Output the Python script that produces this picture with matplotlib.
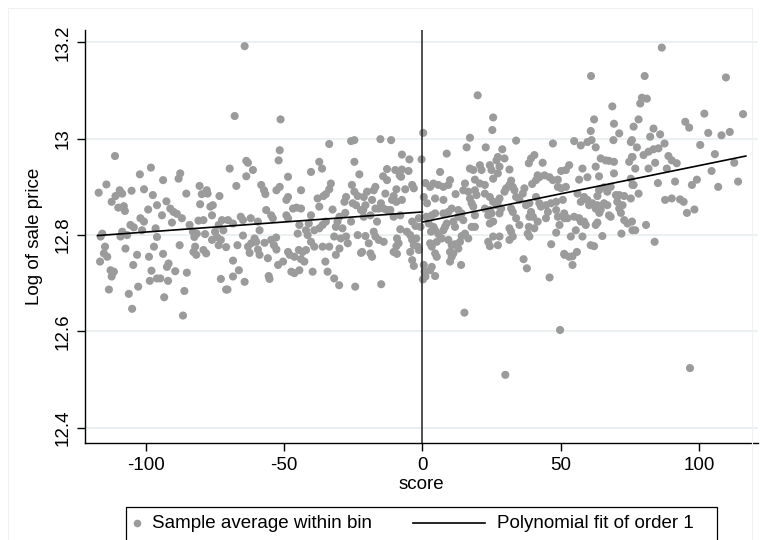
import numpy as np
import matplotlib
matplotlib.use('Agg')
import matplotlib.pyplot as plt
from matplotlib.lines import Line2D
from matplotlib.patches import Rectangle

plt.rcParams['font.family'] = ['Liberation Sans', 'DejaVu Sans']
plt.rcParams['axes.unicode_minus'] = False

# bin averages (score, log sale price), strip by strip
bins_a = [(-111.2, 12.964), (-98.2, 12.940), (-102.2, 12.926), (-114.3, 12.905), (-117.1, 12.888),
          (-109.5, 12.893), (-111, 12.881), (-112.4, 12.869), (-108.6, 12.886), (-105.2, 12.892),
          (-100.7, 12.895), (-97.5, 12.883), (-96, 12.862), (-99.2, 12.853), (-110, 12.857),
          (-108, 12.86), (-107.6, 12.85), (-102, 12.835), (-100.7, 12.828), (-105.6, 12.821),
          (-104.4, 12.816), (-108.6, 12.807), (-106.8, 12.8), (-109.2, 12.797), (-101.4, 12.81),
          (-96.5, 12.814), (-96, 12.796), (-115.8, 12.803), (-116.4, 12.797), (-114.8, 12.776),
          (-107.4, 12.772), (-103.2, 12.759), (-97.1, 12.776), (-115.2, 12.762), (-114, 12.755),
          (-116.6, 12.745), (-98.9, 12.755), (-104.6, 12.738), (-112.8, 12.727), (-111.6, 12.724),
          (-112.4, 12.714), (-98, 12.726), (-98.6, 12.705), (-96, 12.71), (-102.8, 12.693),
          (-113.4, 12.687), (-106.2, 12.678), (-105, 12.647)]

bins_b = [(-87.6, 12.928), (-88.2, 12.917), (-93.8, 12.914), (-85.4, 12.886), (-80.6, 12.902),
          (-78, 12.893), (-79.8, 12.885), (-77.7, 12.886), (-73.4, 12.881), (-80.4, 12.864),
          (-76.7, 12.859), (-75.8, 12.862), (-92.6, 12.87), (-91.2, 12.855), (-90, 12.848),
          (-88.8, 12.844), (-87, 12.835), (-90.6, 12.826), (-94.2, 12.841), (-76.1, 12.841),
          (-81, 12.83), (-79.2, 12.831), (-84.2, 12.821), (-73.7, 12.821), (-72.5, 12.831),
          (-83, 12.807), (-81.6, 12.803), (-82.5, 12.796), (-78.6, 12.802), (-75, 12.807),
          (-74.3, 12.796), (-72, 12.81), (-76.1, 12.79), (-87.8, 12.779), (-82.2, 12.776),
          (-82.8, 12.765), (-81.8, 12.759), (-79.2, 12.769), (-78.2, 12.762), (-73.7, 12.779),
          (-72.9, 12.79), (-93.8, 12.761), (-91.8, 12.741), (-92.4, 12.734), (-89.4, 12.725),
          (-85.2, 12.722), (-94.8, 12.71), (-92, 12.705), (-72.9, 12.709), (-71, 12.687),
          (-86.1, 12.684), (-93.4, 12.671), (-86.6, 12.633)]

bins_c = [(-67.9, 13.047), (-51.3, 13.04), (-64.3, 13.192), (-51.6, 12.976), (-52, 12.955),
          (-69.7, 12.938), (-63.7, 12.954), (-63.1, 12.95), (-61.3, 12.935), (-63.7, 12.922),
          (-67.3, 12.902), (-48.6, 12.921), (-58.3, 12.904), (-57.3, 12.893), (-56.8, 12.885),
          (-52.8, 12.893), (-51.6, 12.9), (-49.2, 12.873), (-48.6, 12.879), (-56.5, 12.852),
          (-54.7, 12.841), (-54.1, 12.835), (-46.8, 12.855), (-49.2, 12.841), (-48.6, 12.835),
          (-65.7, 12.838), (-64.9, 12.831), (-62.1, 12.835), (-70.3, 12.831), (-59.5, 12.828),
          (-68.5, 12.824), (-58.9, 12.81), (-60.7, 12.793), (-60.1, 12.786), (-64.9, 12.799),
          (-57.1, 12.784), (-54.7, 12.79), (-52.9, 12.795), (-53.7, 12.779), (-61.9, 12.783),
          (-63.1, 12.776), (-62.5, 12.763), (-66.9, 12.779), (-59.5, 12.77), (-58.9, 12.759),
          (-55.9, 12.752), (-52.8, 12.77), (-71, 12.775), (-48.6, 12.765), (-48, 12.759),
          (-52.2, 12.738), (-50.4, 12.745), (-68.5, 12.747), (-66.4, 12.727), (-68.5, 12.714),
          (-64.3, 12.703), (-55.6, 12.715), (-55.3, 12.709), (-47.4, 12.724), (-70.5, 12.687)]

bins_d = [(-33.7, 12.989), (-25.8, 12.995), (-24.6, 12.997), (-37.3, 12.952), (-36.3, 12.938),
          (-24.6, 12.952), (-22.8, 12.926), (-40.3, 12.931), (-43.9, 12.893), (-33.1, 12.907),
          (-33.7, 12.895), (-34.9, 12.885), (-35.8, 12.881), (-37.9, 12.876), (-25.5, 12.904),
          (-24.6, 12.89), (-23.4, 12.881), (-27.6, 12.879), (-28.2, 12.869), (-25.2, 12.866),
          (-24, 12.862), (-32.5, 12.853), (-37.3, 12.859), (-45.5, 12.857), (-43.9, 12.855),
          (-40.3, 12.841), (-41.1, 12.824), (-27.9, 12.846), (-22.2, 12.852), (-30, 12.838),
          (-30.7, 12.828), (-34.9, 12.828), (-36.1, 12.821), (-37.3, 12.814), (-39.1, 12.81),
          (-44.5, 12.821), (-42.1, 12.81), (-45.1, 12.803), (-41.5, 12.8), (-31.3, 12.817),
          (-28.9, 12.814), (-25.8, 12.828), (-31.9, 12.797), (-29.5, 12.793), (-27.6, 12.797),
          (-23.4, 12.8), (-40.3, 12.786), (-39.1, 12.776), (-36.1, 12.776), (-33.7, 12.776),
          (-30, 12.772), (-27, 12.783), (-44.7, 12.769), (-43.3, 12.765), (-42.1, 12.769),
          (-46.3, 12.755), (-43.9, 12.75), (-42.7, 12.745), (-31.3, 12.759), (-22.2, 12.763),
          (-35.1, 12.745), (-44.5, 12.727), (-46.3, 12.721), (-39.7, 12.724), (-34.3, 12.724),
          (-31.9, 12.71), (-30.1, 12.696), (-24.3, 12.693)]

bins_e = [(-15.2, 12.999), (-11.3, 12.997), (-7.4, 12.967), (-4.7, 12.957), (-0.3, 12.957),
          (-12.8, 12.937), (-14.2, 12.922), (-12.8, 12.914), (-9.8, 12.935), (-7.4, 12.936),
          (-5, 12.933), (-8.2, 12.924), (-7.7, 12.921), (-3.7, 12.904), (-3.1, 12.897),
          (-6.2, 12.895), (-9.4, 12.895), (-17, 12.9), (-17.6, 12.893), (-20, 12.89),
          (-21.2, 12.879), (-13.4, 12.886), (-10.4, 12.881), (-11, 12.873), (-9.4, 12.869),
          (-7.4, 12.873), (-15, 12.866), (-18.2, 12.873), (-20.6, 12.862), (-21.4, 12.852),
          (-17, 12.855), (-15.8, 12.855), (-14, 12.855), (-12.8, 12.852), (-11.6, 12.852),
          (-18.8, 12.841), (-21.2, 12.838), (-8, 12.841), (-10.4, 12.838), (-1.3, 12.835),
          (-3.7, 12.828), (-16.4, 12.828), (-2.5, 12.819), (-0.7, 12.817), (-8, 12.812),
          (-5.6, 12.807), (-4.4, 12.8), (-3.7, 12.79), (-20.6, 12.798), (-17.6, 12.807),
          (-17, 12.797), (-15.8, 12.79), (-19.4, 12.783), (-9.2, 12.793), (-8.6, 12.783),
          (-9.4, 12.777), (-2.2, 12.793), (-1.7, 12.776), (-14, 12.786), (-3.1, 12.779),
          (-1.3, 12.769), (-21.8, 12.765), (-18.8, 12.762), (-18.2, 12.755), (-10.4, 12.765),
          (-9.2, 12.761), (-4.4, 12.765), (-3.7, 12.748), (-3.1, 12.736), (-14.9, 12.698)]

bins_f = [(0.3, 13.012), (1.1, 12.908), (0.5, 12.879), (1.7, 12.866), (1.4, 12.838),
          (2.3, 12.824), (0.5, 12.738), (0.8, 12.724), (1.1, 12.714), (0.2, 12.708),
          (20, 13.09), (25.6, 13.044), (25.3, 13.018), (17.2, 13.002), (16, 12.982),
          (22.9, 12.982), (8.8, 12.969), (6.4, 12.931), (17.2, 12.938), (18.4, 12.935),
          (20.8, 12.945), (21.4, 12.935), (24.4, 12.945), (25, 12.935), (26.8, 12.955),
          (19, 12.915), (20.8, 12.907), (22.6, 12.904), (25.6, 12.917), (10, 12.914),
          (9.4, 12.904), (7.6, 12.9), (5.8, 12.904), (4, 12.907), (2.8, 12.9),
          (15.4, 12.907), (14.8, 12.893), (16.6, 12.89), (12, 12.885), (4.6, 12.876),
          (19, 12.893), (19.6, 12.883), (22.6, 12.886), (24.4, 12.879), (7.6, 12.873),
          (17.2, 12.876), (17.8, 12.866), (18.4, 12.859), (25.6, 12.869), (26.8, 12.862),
          (22.6, 12.855), (24.4, 12.852), (10.6, 12.855), (9.4, 12.848), (7.6, 12.845),
          (4.6, 12.845), (3.4, 12.841), (13, 12.852), (14.2, 12.845), (13, 12.838),
          (14.8, 12.831), (19, 12.841), (17.8, 12.817), (19, 12.817), (24.4, 12.824),
          (25.6, 12.828), (23.8, 12.841), (25, 12.845), (8.8, 12.824), (8.2, 12.817),
          (7.6, 12.81), (4, 12.817), (4.6, 12.81), (3.1, 12.807), (11.2, 12.828),
          (11.8, 12.817), (5.8, 12.802), (7, 12.793), (5.2, 12.786), (9.4, 12.79),
          (10.6, 12.779), (11.8, 12.781), (13.6, 12.786), (13, 12.772), (15.4, 12.803),
          (16.6, 12.793), (14.2, 12.798), (23.8, 12.786), (24.4, 12.777), (25.6, 12.797),
          (2.8, 12.783), (3.4, 12.776), (10, 12.765), (11.2, 12.762), (10.6, 12.755),
          (4.6, 12.762), (5.2, 12.755), (10, 12.745), (14, 12.738), (3.4, 12.734),
          (2.8, 12.727), (4.6, 12.715), (15.2, 12.639)]

bins_g = [(33.9, 12.996), (47.2, 12.99), (28.9, 12.978), (27.3, 12.962), (27.9, 12.942),
          (27.3, 12.928), (29.7, 12.959), (40.5, 12.966), (39.3, 12.959), (38.5, 12.949),
          (43.5, 12.95), (31.5, 12.936), (50.2, 12.933), (41.7, 12.924), (42.3, 12.92),
          (41.1, 12.914), (39.7, 12.906), (44.2, 12.924), (46, 12.92), (47.2, 12.914),
          (49, 12.915), (32.1, 12.913), (31.5, 12.904), (30.3, 12.897), (29.7, 12.89),
          (32.7, 12.9), (33.3, 12.893), (36.9, 12.897), (36.3, 12.886), (49, 12.9),
          (50.2, 12.897), (27.9, 12.876), (27.3, 12.869), (33.9, 12.879), (35.1, 12.873),
          (38.7, 12.866), (37.5, 12.862), (41.1, 12.879), (42.3, 12.866), (42.9, 12.859),
          (44.7, 12.862), (46.5, 12.866), (48.4, 12.869), (50.8, 12.873), (45.4, 12.848),
          (44.7, 12.835), (48.4, 12.852), (49, 12.838), (32.7, 12.848), (32.1, 12.855),
          (28.5, 12.855), (27.9, 12.845), (39.3, 12.848), (38.7, 12.838), (40, 12.838),
          (33.9, 12.835), (35.1, 12.821), (41.7, 12.828), (51.4, 12.835), (49.6, 12.821),
          (31.5, 12.814), (32.1, 12.807), (32.7, 12.797), (31.5, 12.79), (38.5, 12.817),
          (40.5, 12.814), (38.7, 12.797), (38.1, 12.803), (48.4, 12.805), (27.9, 12.797),
          (27.3, 12.779), (46.6, 12.781), (51.4, 12.759), (36.6, 12.75), (37.8, 12.731),
          (46, 12.712), (30, 12.51), (49.8, 12.603)]

bins_h = [(68.7, 13.067), (62.1, 13.04), (61, 13.13), (69.3, 13.031), (71.2, 13.011),
          (69.1, 12.997), (60.9, 13.016), (61.2, 12.997), (59.7, 12.993), (54.9, 12.995),
          (57.3, 12.986), (62.7, 12.982), (75.4, 12.993), (74.8, 12.952), (76, 12.962),
          (64.5, 12.959), (66.3, 12.955), (67.5, 12.954), (69.3, 12.952), (62.7, 12.942),
          (57.9, 12.938), (53.1, 12.945), (51.9, 12.935), (69.3, 12.928), (63.9, 12.922),
          (56.7, 12.915), (59.7, 12.92), (75.4, 12.917), (76, 12.904), (68.1, 12.9),
          (65.7, 12.899), (51.9, 12.9), (63.9, 12.893), (66.9, 12.89), (63.3, 12.881),
          (56.1, 12.886), (58.5, 12.879), (59.7, 12.873), (57.3, 12.869), (60.3, 12.862),
          (70, 12.883), (71.2, 12.883), (73, 12.881), (70.5, 12.869), (72.4, 12.862),
          (75.4, 12.876), (61.5, 12.866), (63.3, 12.862), (62.7, 12.855), (64.5, 12.853),
          (65.7, 12.866), (66.9, 12.862), (71.2, 12.855), (71.8, 12.846), (64, 12.846),
          (67.5, 12.841), (68.1, 12.838), (51.3, 12.845), (52.5, 12.835), (54.9, 12.838),
          (56.7, 12.835), (57.3, 12.828), (58.5, 12.828), (59.1, 12.821), (73, 12.831),
          (74.2, 12.824), (63.3, 12.826), (62.7, 12.821), (55.5, 12.81), (53.7, 12.797),
          (57.9, 12.797), (65.1, 12.798), (72, 12.803), (76, 12.81), (60.9, 12.779),
          (62.1, 12.777), (51.3, 12.761), (53.1, 12.755), (54.3, 12.756), (55.9, 12.765),
          (54.3, 12.738)]

bins_i = [(86.6, 13.189), (80.4, 13.13), (79.4, 13.085), (81.2, 13.083), (78.8, 13.073),
          (78.2, 13.04), (76.4, 13.025), (95.1, 13.035), (96.5, 13.023), (83.6, 13.021),
          (86, 13.009), (82.4, 13.004), (75.8, 12.997), (87.6, 12.99), (77.6, 12.982),
          (85.4, 12.98), (83.6, 12.978), (81.8, 12.973), (80, 12.966), (89, 12.964),
          (90.2, 12.955), (92, 12.949), (75.8, 12.962), (100.5, 12.987), (77, 12.938),
          (81.8, 12.938), (84.2, 12.95), (88.4, 12.938), (85.2, 12.908), (91.4, 12.911),
          (76.4, 12.904), (78.2, 12.886), (97.5, 12.904), (99.3, 12.915), (87.8, 12.873),
          (90.2, 12.876), (93.2, 12.874), (94.5, 12.869), (95.7, 12.846), (98.4, 12.853),
          (75.8, 12.828), (77, 12.81), (80.9, 12.821), (84, 12.786), (96.8, 12.524)]

bins_j = [(109.8, 13.127), (102, 13.052), (116, 13.051), (103.4, 13.012), (108.2, 13.007),
          (111.2, 13.014), (105.8, 12.968), (112.8, 12.95), (104.6, 12.933), (107, 12.9),
          (114.2, 12.911)]

# linear fits on each side of the cutoff
fit_left_x = [-117.5, 0]
fit_left_y = [12.799, 12.848]
fit_right_x = [0, 117]
fit_right_y = [12.827, 12.964]

pts = np.array(bins_a + bins_b + bins_c + bins_d + bins_e + bins_f
               + bins_g + bins_h + bins_i + bins_j)

fig = plt.figure(figsize=(7.6, 5.4), dpi=100)
ax = fig.add_axes([0.112, 0.180, 0.885, 0.764])

dot_color = '#9b9b9b'
ax.scatter(pts[:, 0], pts[:, 1], s=34, color=dot_color, edgecolors='none', zorder=2)
ax.plot(fit_left_x, fit_left_y, color='black', lw=1.2, zorder=3)
ax.plot(fit_right_x, fit_right_y, color='black', lw=1.2, zorder=3)
ax.axvline(0, color='#222222', lw=1.1, zorder=3)

ax.set_xlim(-122, 121.3)
ax.set_ylim(12.369, 13.225)
ax.set_xticks([-100, -50, 0, 50, 100])
ax.set_yticks([12.4, 12.6, 12.8, 13.0, 13.2])
ax.set_yticklabels(['12.4', '12.6', '12.8', '13', '13.2'], rotation=90, va='center')
ax.grid(axis='y', color='#e6eef0', lw=1.1, zorder=0)
ax.set_axisbelow(True)

for s in ['top', 'right']:
    ax.spines[s].set_visible(False)
for s in ['left', 'bottom']:
    ax.spines[s].set_color('black')
    ax.spines[s].set_linewidth(1.0)
ax.tick_params(direction='out', length=6, width=1.0, labelsize=13.5, pad=4)

ax.set_xlabel('score', fontsize=13.5, labelpad=2)
ax.set_ylabel('Log of sale price', fontsize=13.5, labelpad=8)

# faint outer frame of the graph region
fig.add_artist(Rectangle((8 / 760, -0.02), 744 / 760, 1 - 8 / 540 + 0.02,
                         transform=fig.transFigure, fill=False, edgecolor='#eef2f3', lw=0.8))

# legend box along the bottom, like Stata's
fig.add_artist(Rectangle((126 / 760, -0.02), 591 / 760, 1 - 507 / 540 + 0.02,
                         transform=fig.transFigure, fill=False, edgecolor='black', lw=0.9))
fig.add_artist(Line2D([137 / 760], [1 - 523 / 540], transform=fig.transFigure,
                      marker='o', markersize=5.5, color=dot_color, markeredgewidth=0, linestyle='none'))
fig.text(152 / 760, 1 - 523 / 540, 'Sample average within bin', fontsize=13.5, va='center')
fig.add_artist(Line2D([413 / 760, 485 / 760], [1 - 523 / 540] * 2,
                      transform=fig.transFigure, color='black', lw=1.2))
fig.text(497 / 760, 1 - 523 / 540, 'Polynomial fit of order 1', fontsize=13.5, va='center')

fig.savefig('out.png', dpi=100)
